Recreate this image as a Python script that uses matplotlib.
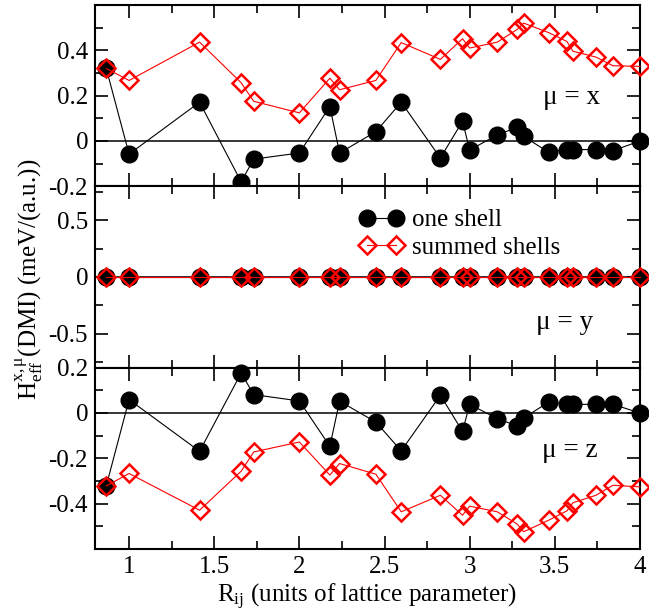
import numpy as np
import matplotlib
matplotlib.use('Agg')
import matplotlib.pyplot as plt
from matplotlib.ticker import MultipleLocator, FuncFormatter

# расстояния до соседей (в единицах параметра решётки)
r_ij = [0.866, 1.0, 1.414, 1.658, 1.732, 2.0, 2.179, 2.236, 2.449, 2.598, 2.828,
        2.958, 3.0, 3.162, 3.279, 3.317, 3.464, 3.571, 3.606, 3.742, 3.841, 4.0]

# mu = x
x_one = [0.32, -0.058, 0.171, -0.180, -0.080, -0.053, 0.152, -0.053, 0.041, 0.171, -0.075,
         0.087, -0.040, 0.027, 0.060, 0.020, -0.050, -0.038, -0.038, -0.038, -0.043, 0.0]
x_sum = [0.32, 0.267, 0.436, 0.257, 0.175, 0.124, 0.277, 0.226, 0.267, 0.434, 0.360,
         0.451, 0.410, 0.436, 0.492, 0.520, 0.478, 0.439, 0.396, 0.370, 0.332, 0.329]

# mu = y
y_one = [0.0, 0.0, 0.0, 0.0, 0.0, 0.0, 0.0, 0.0, 0.0, 0.0, 0.0,
         0.0, 0.0, 0.0, 0.0, 0.0, 0.0, 0.0, 0.0, 0.0, 0.0, 0.0]
y_sum = [0.0, 0.0, 0.0, 0.0, 0.0, 0.0, 0.0, 0.0, 0.0, 0.0, 0.0,
         0.0, 0.0, 0.0, 0.0, 0.0, 0.0, 0.0, 0.0, 0.0, 0.0, 0.0]

# mu = z
z_one = [-0.322, 0.059, -0.169, 0.176, 0.081, 0.053, -0.147, 0.052, -0.040, -0.167, 0.078,
         -0.081, 0.038, -0.025, -0.057, -0.022, 0.048, 0.038, 0.038, 0.038, 0.038, 0.0]
z_sum = [-0.322, -0.267, -0.429, -0.257, -0.172, -0.128, -0.274, -0.223, -0.270, -0.436, -0.363,
         -0.451, -0.411, -0.436, -0.490, -0.524, -0.473, -0.432, -0.396, -0.363, -0.319, -0.326]

panels = [
    (x_one, x_sum, 'μ = x', (-0.2, 0.6), [-0.2, 0, 0.2, 0.4], 0.1, (3.60, 0.193)),
    (y_one, y_sum, 'μ = y', (-0.8, 0.8), [-0.5, 0, 0.5], 0.25, (3.56, -0.405)),
    (z_one, z_sum, 'μ = z', (-0.6, 0.2), [-0.4, -0.2, 0, 0.2], 0.1, (3.59, -0.164)),
]

plt.rcParams['font.family'] = 'Liberation Serif'
plt.rcParams['mathtext.fontset'] = 'custom'
plt.rcParams['mathtext.rm'] = 'Liberation Serif'
plt.rcParams['mathtext.it'] = 'Liberation Serif:italic'
plt.rcParams['axes.unicode_minus'] = False
plt.rcParams['font.size'] = 18

fig, axes = plt.subplots(3, 1, figsize=(6.49, 6.14), dpi=100, sharex=True)
fig.subplots_adjust(left=0.1464, right=0.9861, top=0.9919, bottom=0.1059, hspace=0)

fmt = FuncFormatter(lambda v, p: '%g' % round(v, 3))

for ax, (one, summ, lab, ylim, yt, ymin, pos) in zip(axes, panels):
    ax.axhline(0, color='k', lw=1.1, zorder=1)
    ax.plot(r_ij, one, '-o', color='k', lw=0.8, ms=12, label='one shell',
            zorder=4, clip_on=False)
    ax.plot(r_ij, summ, '-D', color='red', lw=0.8, ms=9.5, mfc='none', mew=1.8,
            label='summed shells', zorder=5, clip_on=False)
    ax.set_xlim(0.8, 4.0)
    ax.set_ylim(*ylim)
    ax.set_yticks(yt)
    ax.yaxis.set_minor_locator(MultipleLocator(ymin))
    ax.yaxis.set_major_formatter(fmt)
    ax.xaxis.set_major_locator(MultipleLocator(0.5))
    ax.xaxis.set_minor_locator(MultipleLocator(0.25))
    ax.xaxis.set_major_formatter(fmt)
    ax.tick_params(which='both', direction='in', top=True, right=True, width=1.2)
    ax.tick_params(which='major', length=9.5, pad=5)
    ax.tick_params(which='minor', length=5.5)
    for s in ax.spines.values():
        s.set_linewidth(1.5)
    ax.text(pos[0], pos[1], lab, ha='center', va='center', fontsize=19.5)

axes[1].legend(loc='upper left', bbox_to_anchor=(0.485, 0.876), frameon=False,
               numpoints=2, handlelength=1.76, handletextpad=0.36,
               labelspacing=0.2, borderpad=0, borderaxespad=0, fontsize=18)

axes[2].set_xlabel(r'$\mathregular{R_{ij}}$ (units of lattice parameter)', labelpad=3)
fig.text(0.045, 0.545, r'$\mathregular{H^{x,μ}_{eff}}$(DMI) (meV/(a.u.))',
         rotation=90, ha='center', va='center', fontsize=18)

plt.savefig('out.png', dpi=100)
